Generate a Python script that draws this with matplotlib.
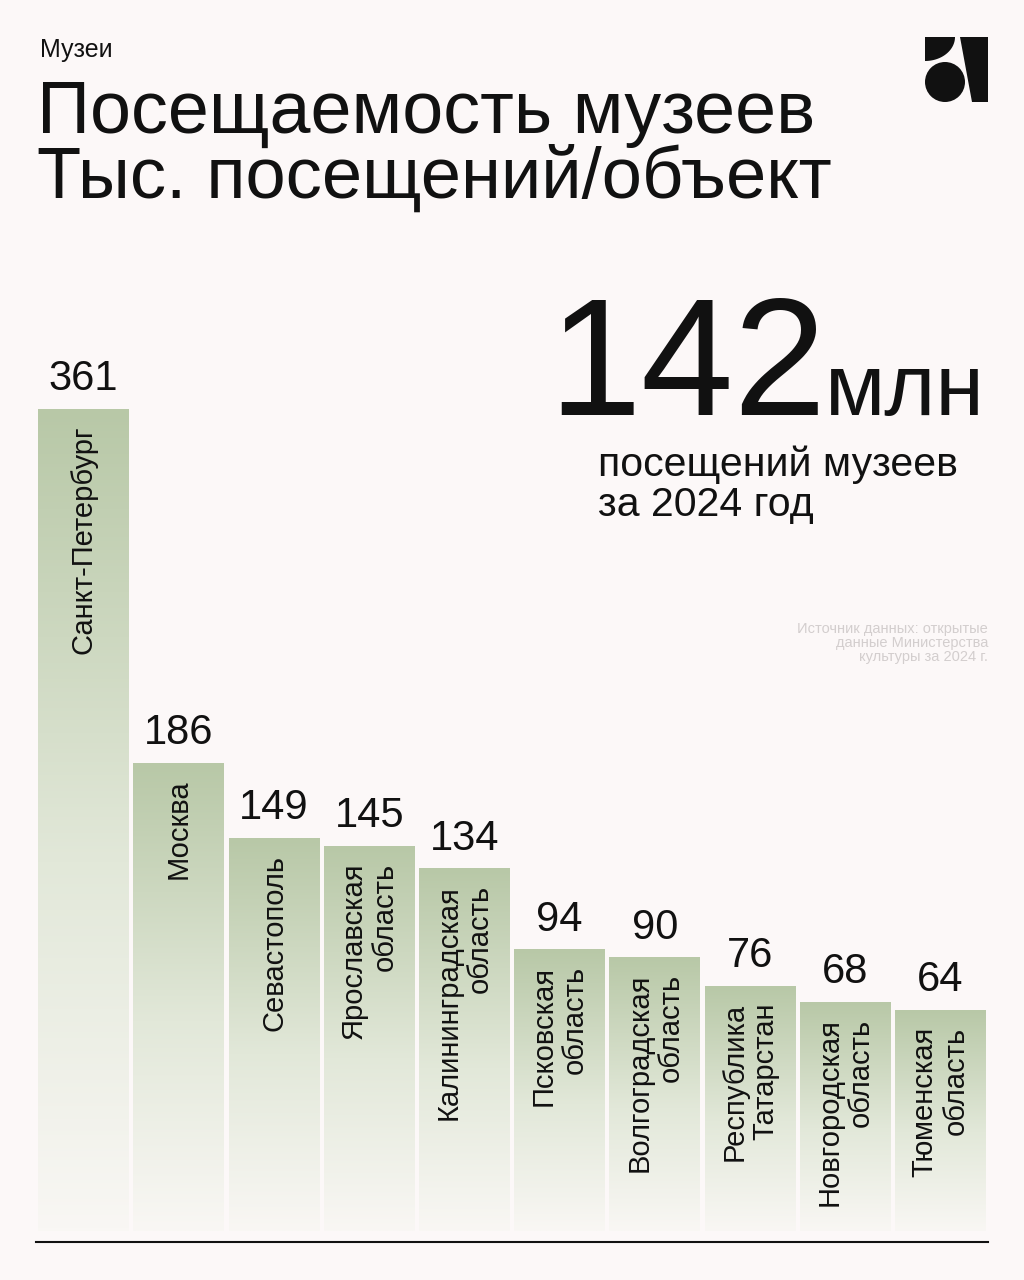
import matplotlib
matplotlib.use("Agg")
import matplotlib.pyplot as plt
import numpy as np
from matplotlib.colors import LinearSegmentedColormap
from matplotlib.patches import Circle, Polygon

# data
regions = ["Санкт-Петербург", "Москва", "Севастополь", "Ярославская\nобласть",
           "Калининградская\nобласть", "Псковская\nобласть", "Волгоградская\nобласть",
           "Республика\nТатарстан", "Новгородская\nобласть", "Тюменская\nобласть"]
visits = [361, 186, 149, 145, 134, 94, 90, 76, 68, 64]

W, H = 1024, 1280
bg = "#fcf8f8"
plt.rcParams["font.family"] = ["Liberation Sans", "DejaVu Sans"]

fig = plt.figure(figsize=(W / 100, H / 100), dpi=100, facecolor=bg)


def fx(x):
    return x / W


def fy(y):
    return 1 - y / H


# header
fig.text(fx(40), fy(57), "Музеи", fontsize=18, color="#111111", va="baseline")
fig.text(fx(37), fy(133), "Посещаемость музеев", fontsize=53, color="#111111", va="baseline")
fig.text(fx(37), fy(198), "Тыс. посещений/объект", fontsize=52, color="#111111", va="baseline")

# big number
fig.text(fx(826), fy(415), "142", fontsize=120, color="#111111", va="baseline", ha="right")
fig.text(fx(985), fy(415), "млн", fontsize=63, color="#111111", va="baseline", ha="right")
fig.text(fx(598), fy(445), "посещений музеев\nза 2024 год", fontsize=29.5, color="#111111",
         va="top", ha="left", linespacing=1.08)
fig.text(fx(988), fy(622), "Источник данных: открытые\nданные Министерства\nкультуры за 2024 г.",
         fontsize=10.5, color="#d3cece", va="top", ha="right", multialignment="right", linespacing=1.0)

# logo
lax = fig.add_axes([fx(925), fy(102), fx(63), 65 / H])
lax.set_xlim(0, 63)
lax.set_ylim(65, 0)
lax.axis("off")
t = np.linspace(0, np.pi / 2, 40)
pts = [(0, 0)] + [(30 * np.cos(a), 24 * np.sin(a)) for a in t]
lax.add_patch(Polygon(pts, closed=True, color="#111111", lw=0))
lax.add_patch(Circle((20, 45), 20, color="#111111", lw=0))
lax.add_patch(Polygon([(35, 0), (63, 0), (63, 65), (47, 65)], closed=True, color="#111111", lw=0))

# bars
ax = fig.add_axes([fx(36), fy(1242), fx(988 - 36), (1242 - 300) / H])
ax.set_facecolor(bg)
ax.set_xlim(-0.5, len(visits) - 0.5)
ax.set_ylim(-50.6, 414.8)
base = -45
width = 0.955
cmap = LinearSegmentedColormap.from_list(
    "g", [(0, "#f9f7f4"), (0.45, "#e2e8d9"), (1, "#b8c8a7")])
grad = np.linspace(0, 1, 256).reshape(-1, 1)

for i, (name, v) in enumerate(zip(regions, visits)):
    bars = ax.bar(i, v - base, bottom=base, width=width, color="none", lw=0)
    rect = bars[0]
    im = ax.imshow(grad, cmap=cmap, aspect="auto", origin="lower",
                   extent=[i - width / 2, i + width / 2, base, v], zorder=1)
    im.set_clip_path(rect)
    ax.annotate(str(v), (i, v), xytext=(0, 7), textcoords="offset points",
                ha="center", va="bottom", fontsize=30, color="#111111")
    ax.annotate(name, (i, v), xytext=(0, -12), textcoords="offset points",
                ha="center", va="top", rotation=90, multialignment="right",
                fontsize=21, color="#111111", linespacing=1.15)

for s in ["top", "right", "left"]:
    ax.spines[s].set_visible(False)
ax.spines["bottom"].set_linewidth(1.5)
ax.spines["bottom"].set_color("#111111")
ax.set_xticks([])
ax.set_yticks([])

fig.savefig("out.png", dpi=100, facecolor=bg)
